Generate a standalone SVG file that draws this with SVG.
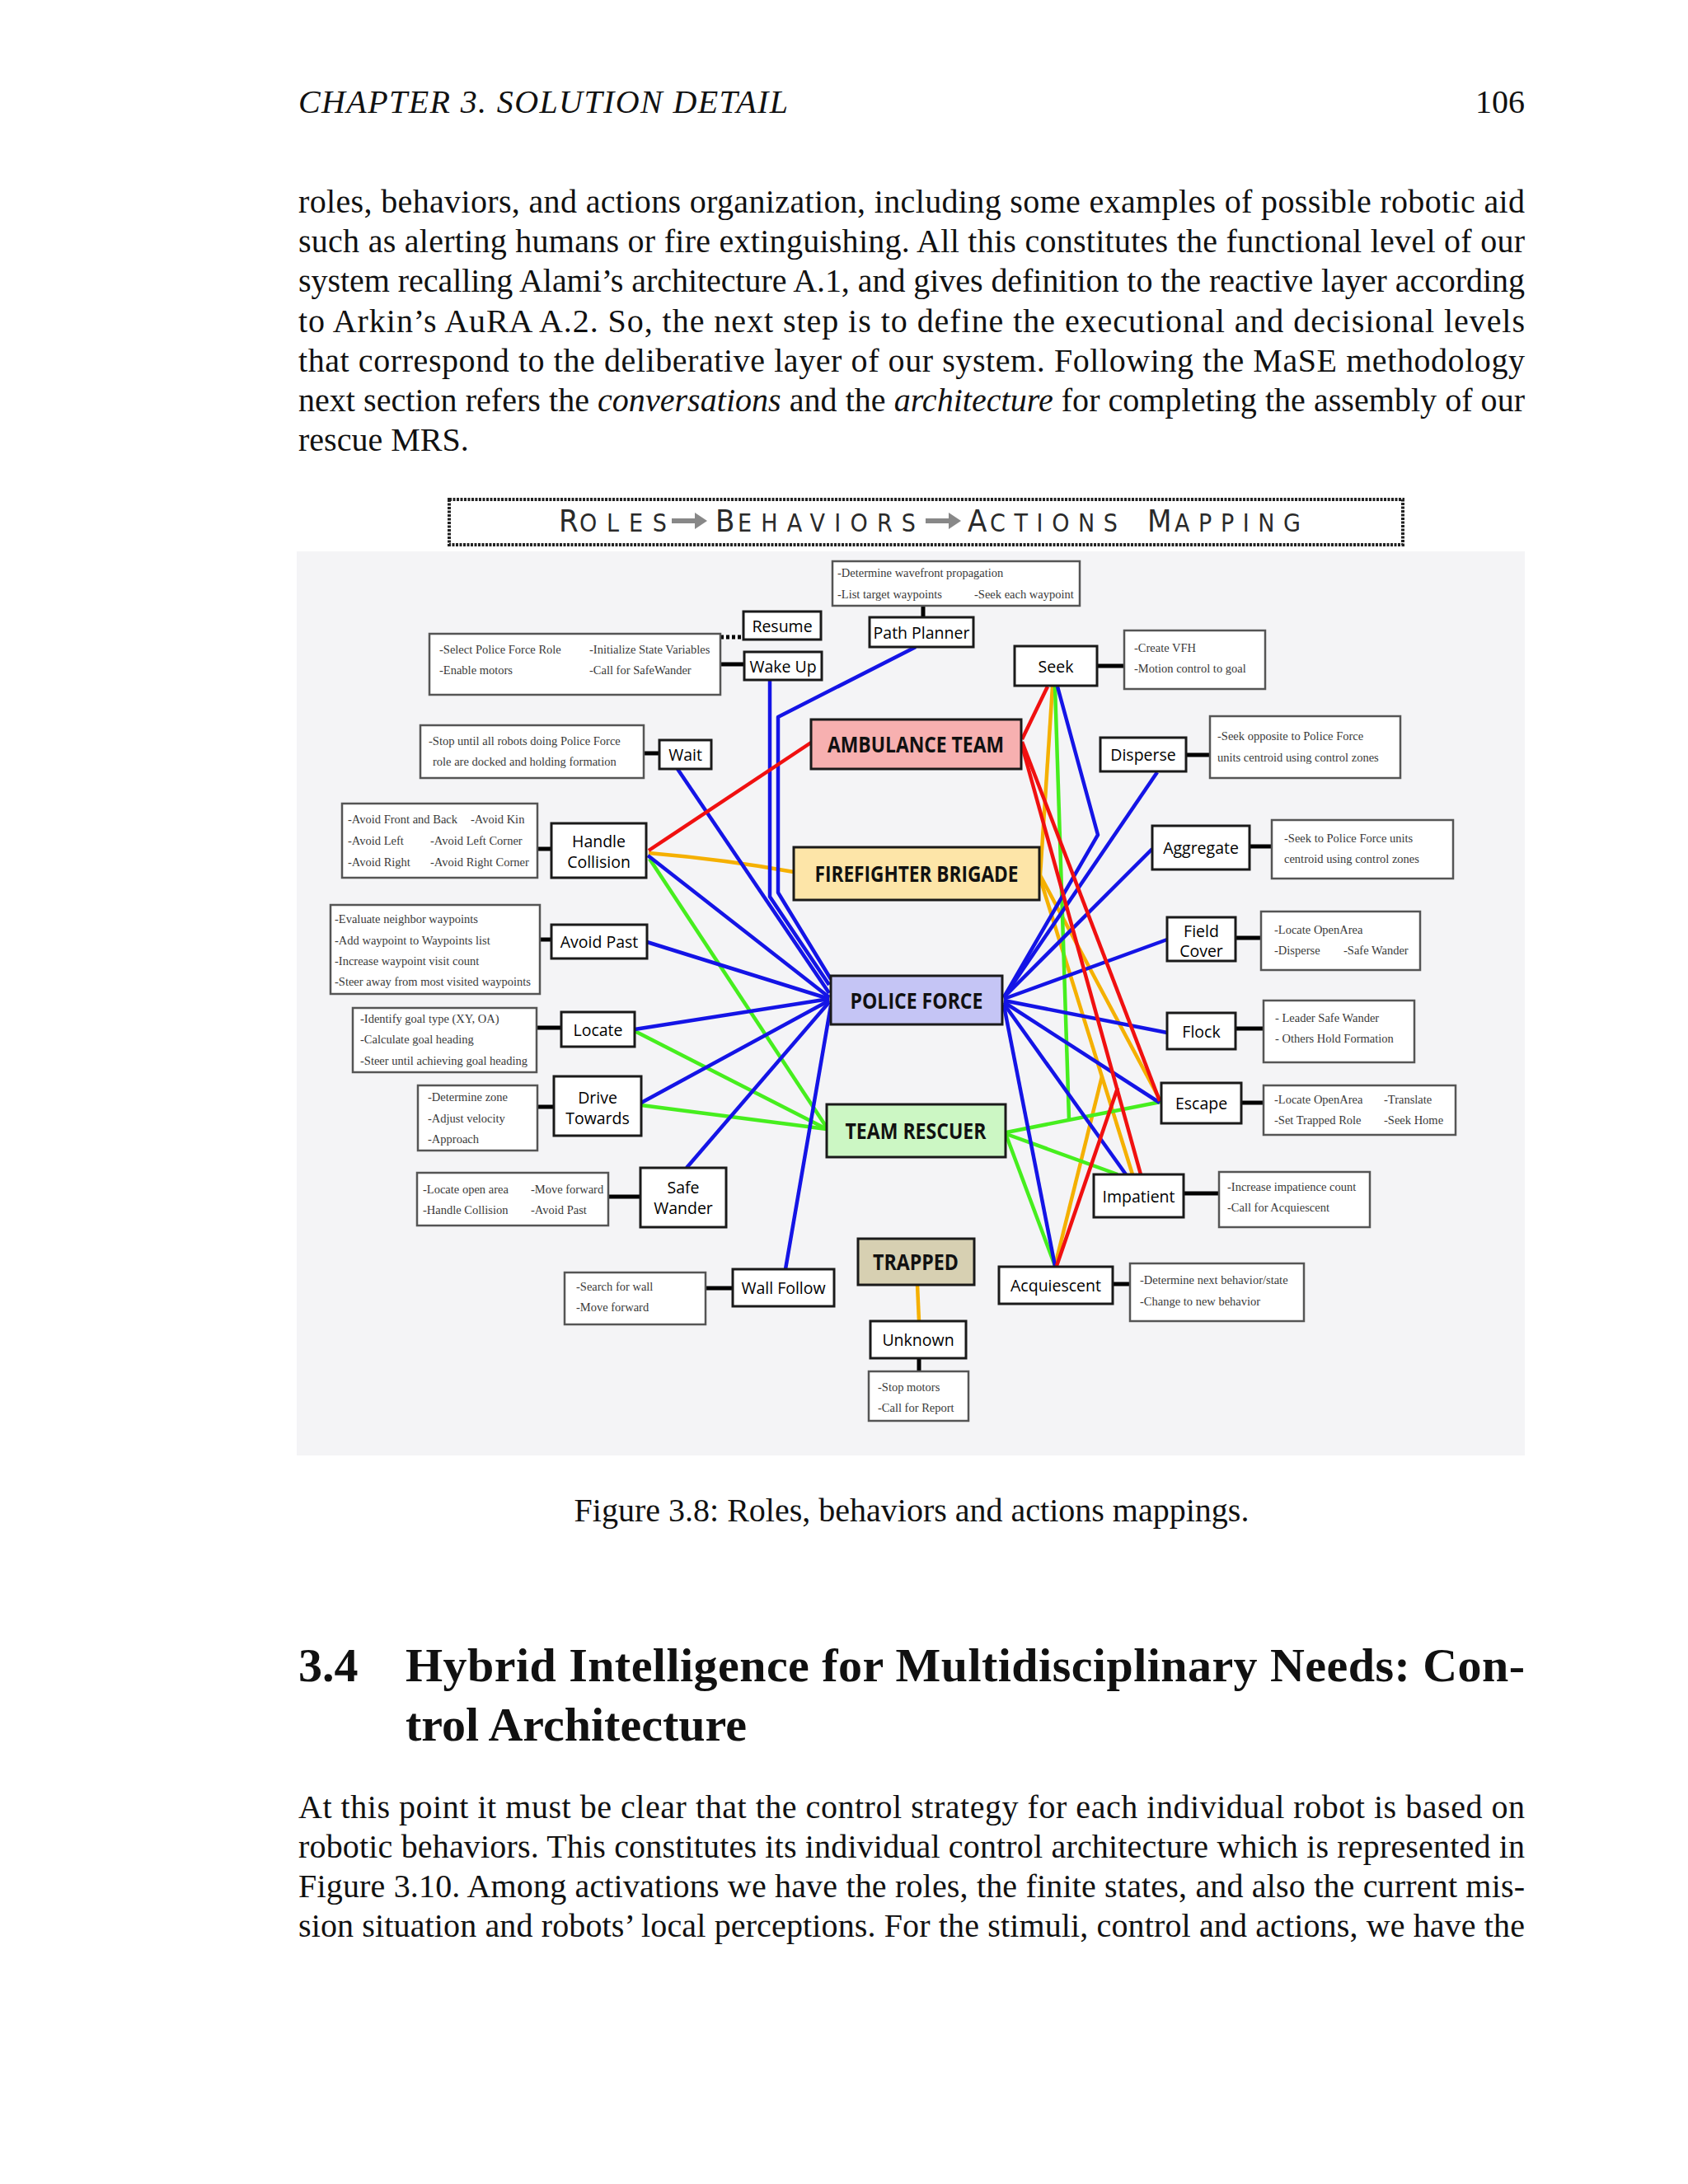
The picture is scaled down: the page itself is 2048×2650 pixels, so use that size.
<svg xmlns="http://www.w3.org/2000/svg" width="2048" height="2650" viewBox="0 0 2048 2650">
<style>
.page{font-family:"Liberation Serif","Times New Roman",serif;font-size:40px;fill:#111}
.beh{fill:#fff;stroke:#1a1a1a;stroke-width:3}
.desc{fill:#fff;stroke:#555;stroke-width:2.5}
.role{stroke:#1a1a1a;stroke-width:3}
.bl{font-family:"Open Sans","Noto Sans",sans-serif;font-size:19.5px;fill:#000;text-anchor:middle;dominant-baseline:central}
.rl{font-family:"Open Sans","Noto Sans",sans-serif;font-weight:bold;font-size:26px;fill:#111;text-anchor:middle;dominant-baseline:central}
.dt{font-family:"Liberation Serif","Times New Roman",serif;font-size:14.5px;fill:#3a3a3a}
.k{stroke:#000;stroke-width:5;fill:none}
.b{stroke:#1414e6;stroke-width:4.5;fill:none;stroke-linejoin:round}
.r{stroke:#f01010;stroke-width:4.5;fill:none}
.o{stroke:#f5b000;stroke-width:4.5;fill:none}
.g{stroke:#46ee1e;stroke-width:4.5;fill:none}
.tt{font-family:"DejaVu Sans Condensed","DejaVu Sans",sans-serif;fill:#2a2a2a}
</style>
<rect x="0" y="0" width="2048" height="2650" fill="#fff"/>

<g id="page-text" class="page">
<text x="362" y="137" font-style="italic" textLength="594" lengthAdjust="spacing">CHAPTER 3.  SOLUTION DETAIL</text>
<text x="1850" y="137" text-anchor="end">106</text>
<text x="362" y="258" textLength="1488" lengthAdjust="spacing">roles, behaviors, and actions organization, including some examples of possible robotic aid</text>
<text x="362" y="306" textLength="1488" lengthAdjust="spacing">such as alerting humans or fire extinguishing.  All this constitutes the functional level of our</text>
<text x="362" y="354" textLength="1488" lengthAdjust="spacing">system recalling Alami’s architecture A.1, and gives definition to the reactive layer according</text>
<text x="362" y="403" textLength="1488" lengthAdjust="spacing">to Arkin’s AuRA A.2.  So, the next step is to define the executional and decisional levels</text>
<text x="362" y="451" textLength="1488" lengthAdjust="spacing">that correspond to the deliberative layer of our system.  Following the MaSE methodology</text>
<text x="362" y="499" textLength="1488" lengthAdjust="spacing">next section refers the <tspan font-style="italic">conversations</tspan> and the <tspan font-style="italic">architecture</tspan> for completing the assembly of our</text>
<text x="362" y="547">rescue MRS.</text>
<text x="1106" y="1846" text-anchor="middle">Figure 3.8: Roles, behaviors and actions mappings.</text>
<text x="362" y="2040" font-weight="bold" font-size="58">3.4</text>
<text x="492" y="2040" font-weight="bold" font-size="58" textLength="1358" lengthAdjust="spacing">Hybrid Intelligence for Multidisciplinary Needs: Con-</text>
<text x="492" y="2112" font-weight="bold" font-size="58">trol Architecture</text>
<text x="362" y="2206" textLength="1488" lengthAdjust="spacing">At this point it must be clear that the control strategy for each individual robot is based on</text>
<text x="362" y="2254" textLength="1488" lengthAdjust="spacing">robotic behaviors. This constitutes its individual control architecture which is represented in</text>
<text x="362" y="2302" textLength="1488" lengthAdjust="spacing">Figure 3.10.  Among activations we have the roles, the finite states, and also the current mis-</text>
<text x="362" y="2350" textLength="1488" lengthAdjust="spacing">sion situation and robots’ local perceptions. For the stimuli, control and actions, we have the</text>
</g>

<g id="title-banner">
<rect x="545" y="606" width="1157" height="55" fill="#fff" stroke="#222" stroke-width="4" stroke-dasharray="3 1.5"/>
<text class="tt" x="678" y="645" font-size="38">R</text>
<text class="tt" x="703" y="645" font-size="30" textLength="106" lengthAdjust="spacing">OLES</text>
<path d="M815,632 H846" stroke="#888" stroke-width="6"/>
<path d="M843,622 L858,632 L843,642 Z" fill="#888"/>
<text class="tt" x="868" y="645" font-size="38">B</text>
<text class="tt" x="895" y="645" font-size="30" textLength="216" lengthAdjust="spacing">EHAVIORS</text>
<path d="M1123,632 H1154" stroke="#888" stroke-width="6"/>
<path d="M1151,622 L1166,632 L1151,642 Z" fill="#888"/>
<text class="tt" x="1174" y="645" font-size="38">A</text>
<text class="tt" x="1201" y="645" font-size="30" textLength="155" lengthAdjust="spacing">CTIONS</text>
<text class="tt" x="1392" y="645" font-size="38">M</text>
<text class="tt" x="1425" y="645" font-size="30" textLength="153" lengthAdjust="spacing">APPING</text>
</g>

<rect id="panel" x="360" y="669" width="1490" height="1097" fill="#f4f4f6"/>

<g id="connectors">
<path class="k" d="M874,773 H902" stroke-dasharray="4 3"/>
<path class="k" d="M874,806 H903"/>
<path class="k" d="M1120,735 V749"/>
<path class="k" d="M1331,808 H1364"/>
<path class="k" d="M781,914 H800"/>
<path class="k" d="M1439,916 H1468"/>
<path class="k" d="M652,1030 H669"/>
<path class="k" d="M1516,1027 H1543"/>
<path class="k" d="M655,1140 H669"/>
<path class="k" d="M1499,1138 H1530"/>
<path class="k" d="M651,1247 H681"/>
<path class="k" d="M1499,1248 H1533"/>
<path class="k" d="M652,1343 H672"/>
<path class="k" d="M1506,1338 H1533"/>
<path class="k" d="M738,1452 H777"/>
<path class="k" d="M1436,1448 H1479"/>
<path class="k" d="M1350,1558 H1371"/>
<path class="k" d="M856,1563 H889"/>
<path class="k" d="M1115,1648 V1664"/>
<path class="o" d="M787,1035 Q880,1043 963,1058"/>
<path class="o" d="M1277,833 L1262,1062"/>
<path class="o" d="M1262,1062 L1407,1334"/>
<path class="o" d="M1262,1066 L1374,1425"/>
<path class="o" d="M1280,1536 L1337,1306"/>
<path class="o" d="M1113,1559 L1115,1603" stroke-width="4"/>
<path class="g" d="M788,1042 L1003,1368"/>
<path class="g" d="M770,1251 L1003,1370"/>
<path class="g" d="M778,1341 L1003,1370"/>
<path class="g" d="M1280,833 L1297,1358"/>
<path class="g" d="M1221,1374 L1408,1337" stroke-width="6"/>
<path class="g" d="M1221,1376 L1356,1425"/>
<path class="g" d="M1221,1378 L1280,1536"/>
<path class="b" d="M822,933 L1006,1205"/>
<path class="b" d="M934,825 L934,1088 L1006,1195"/>
<path class="b" d="M1111,785 L944,870 L944,1083 L1008,1188"/>
<path class="b" d="M786,1038 L1006,1210"/>
<path class="b" d="M785,1143 L1006,1212"/>
<path class="b" d="M770,1249 L1006,1212"/>
<path class="b" d="M778,1338 L1006,1214"/>
<path class="b" d="M833,1417 L1006,1216"/>
<path class="b" d="M953,1540 L1008,1220"/>
<path class="b" d="M1283,833 L1332,1013 L1218,1210"/>
<path class="b" d="M1404,937 L1218,1210"/>
<path class="b" d="M1398,1030 L1218,1210"/>
<path class="b" d="M1416,1140 L1218,1212"/>
<path class="b" d="M1416,1253 L1218,1214"/>
<path class="b" d="M1407,1338 L1218,1216"/>
<path class="b" d="M1366,1425 L1218,1218"/>
<path class="b" d="M1280,1536 L1218,1220"/>
<path class="r" d="M787,1032 L984,901"/>
<path class="r" d="M1271,833 L1240,897"/>
<path class="r" d="M1240,900 L1407,1336"/>
<path class="r" d="M1240,905 L1384,1425"/>
<path class="r" d="M1282,1536 L1356,1320"/>
</g>

<g id="role-ambulance"><rect class="role" x="984" y="873" width="255" height="60" fill="#f7b0b0"/><text class="rl" x="1111" y="903" textLength="214" lengthAdjust="spacingAndGlyphs">AMBULANCE TEAM</text></g>
<g id="role-firefighter"><rect class="role" x="963" y="1028" width="298" height="64" fill="#fde5a8"/><text class="rl" x="1112" y="1060" textLength="247" lengthAdjust="spacingAndGlyphs">FIREFIGHTER BRIGADE</text></g>
<g id="role-police"><rect class="role" x="1008" y="1184" width="208" height="59" fill="#c5c5f5"/><text class="rl" x="1112" y="1214" textLength="161" lengthAdjust="spacingAndGlyphs">POLICE FORCE</text></g>
<g id="role-rescuer"><rect class="role" x="1003" y="1340" width="217" height="64" fill="#ccf7c4"/><text class="rl" x="1111" y="1372" textLength="171" lengthAdjust="spacingAndGlyphs">TEAM RESCUER</text></g>
<g id="role-trapped"><rect class="role" x="1041" y="1503" width="141" height="56" fill="#d7d0b2"/><text class="rl" x="1111" y="1531" textLength="104" lengthAdjust="spacingAndGlyphs">TRAPPED</text></g>

<g id="beh-resume"><rect class="beh" x="902" y="742" width="94" height="34"/><text class="bl" x="949" y="759">Resume</text></g>
<g id="beh-wakeup"><rect class="beh" x="903" y="791" width="94" height="34"/><text class="bl" x="950" y="808">Wake Up</text></g>
<g id="beh-pathplanner"><rect class="beh" x="1055" y="749" width="126" height="36"/><text class="bl" x="1118" y="767">Path Planner</text></g>
<g id="beh-seek"><rect class="beh" x="1231" y="784" width="100" height="48"/><text class="bl" x="1281" y="808">Seek</text></g>
<g id="beh-wait"><rect class="beh" x="800" y="898" width="63" height="35"/><text class="bl" x="831.5" y="915.5">Wait</text></g>
<g id="beh-disperse"><rect class="beh" x="1335" y="895" width="104" height="41"/><text class="bl" x="1387" y="915.5">Disperse</text></g>
<g id="beh-handlecollision"><rect class="beh" x="669" y="999" width="115" height="66"/><text class="bl" x="726.5" y="1020">Handle</text><text class="bl" x="726.5" y="1045">Collision</text></g>
<g id="beh-aggregate"><rect class="beh" x="1398" y="1002" width="118" height="53"/><text class="bl" x="1457" y="1028">Aggregate</text></g>
<g id="beh-avoidpast"><rect class="beh" x="669" y="1122" width="116" height="41"/><text class="bl" x="727" y="1142">Avoid Past</text></g>
<g id="beh-fieldcover"><rect class="beh" x="1416" y="1113" width="83" height="53"/><text class="bl" x="1457.5" y="1129">Field</text><text class="bl" x="1457.5" y="1153">Cover</text></g>
<g id="beh-locate"><rect class="beh" x="681" y="1228" width="89" height="42"/><text class="bl" x="725.5" y="1249">Locate</text></g>
<g id="beh-flock"><rect class="beh" x="1416" y="1229" width="83" height="44"/><text class="bl" x="1457.5" y="1251">Flock</text></g>
<g id="beh-drivetowards"><rect class="beh" x="672" y="1306" width="106" height="72"/><text class="bl" x="725" y="1331">Drive</text><text class="bl" x="725" y="1356">Towards</text></g>
<g id="beh-escape"><rect class="beh" x="1409" y="1314" width="97" height="49"/><text class="bl" x="1457.5" y="1338.5">Escape</text></g>
<g id="beh-safewander"><rect class="beh" x="777" y="1417" width="104" height="72"/><text class="bl" x="829" y="1440">Safe</text><text class="bl" x="829" y="1465">Wander</text></g>
<g id="beh-impatient"><rect class="beh" x="1327" y="1425" width="109" height="52"/><text class="bl" x="1381.5" y="1451">Impatient</text></g>
<g id="beh-acquiescent"><rect class="beh" x="1212" y="1537" width="138" height="45"/><text class="bl" x="1281" y="1559.5">Acquiescent</text></g>
<g id="beh-wallfollow"><rect class="beh" x="889" y="1540" width="123" height="45"/><text class="bl" x="950.5" y="1562.5">Wall Follow</text></g>
<g id="beh-unknown"><rect class="beh" x="1056" y="1603" width="116" height="45"/><text class="bl" x="1114" y="1625.5">Unknown</text></g>

<g id="act-wakeup"><rect class="desc" x="521" y="769" width="353" height="74"/><text class="dt" x="533" y="793">-Select Police Force Role</text><text class="dt" x="715" y="793">-Initialize State Variables</text><text class="dt" x="533" y="818">-Enable motors</text><text class="dt" x="715" y="818">-Call for SafeWander</text></g>
<g id="act-pathplanner"><rect class="desc" x="1010" y="681" width="300" height="54"/><text class="dt" x="1016" y="700">-Determine wavefront propagation</text><text class="dt" x="1016" y="726">-List target waypoints</text><text class="dt" x="1182" y="726">-Seek each waypoint</text></g>
<g id="act-seek"><rect class="desc" x="1364" y="765" width="171" height="71"/><text class="dt" x="1376" y="791">-Create VFH</text><text class="dt" x="1376" y="816">-Motion control to goal</text></g>
<g id="act-wait"><rect class="desc" x="510" y="880" width="271" height="64"/><text class="dt" x="520" y="904">-Stop until all robots doing Police Force</text><text class="dt" x="525" y="929">role are docked and holding formation</text></g>
<g id="act-disperse"><rect class="desc" x="1468" y="869" width="231" height="75"/><text class="dt" x="1477" y="898">-Seek opposite to Police Force</text><text class="dt" x="1477" y="924">units centroid using control zones</text></g>
<g id="act-handlecollision"><rect class="desc" x="415" y="975" width="237" height="90"/><text class="dt" x="422" y="999">-Avoid Front and Back</text><text class="dt" x="571" y="999">-Avoid Kin</text><text class="dt" x="422" y="1025">-Avoid Left</text><text class="dt" x="522" y="1025">-Avoid Left Corner</text><text class="dt" x="422" y="1051">-Avoid Right</text><text class="dt" x="522" y="1051">-Avoid Right Corner</text></g>
<g id="act-aggregate"><rect class="desc" x="1543" y="995" width="220" height="71"/><text class="dt" x="1558" y="1022">-Seek to Police Force units</text><text class="dt" x="1558" y="1047">centroid using control zones</text></g>
<g id="act-avoidpast"><rect class="desc" x="401" y="1098" width="254" height="108" stroke-width="3.5"/><text class="dt" x="406" y="1120">-Evaluate neighbor waypoints</text><text class="dt" x="406" y="1146">-Add waypoint to Waypoints list</text><text class="dt" x="406" y="1171">-Increase waypoint visit count</text><text class="dt" x="406" y="1196">-Steer away from most visited waypoints</text></g>
<g id="act-fieldcover"><rect class="desc" x="1530" y="1106" width="193" height="71"/><text class="dt" x="1546" y="1133">-Locate OpenArea</text><text class="dt" x="1546" y="1158">-Disperse</text><text class="dt" x="1630" y="1158">-Safe Wander</text></g>
<g id="act-locate"><rect class="desc" x="428" y="1223" width="223" height="78"/><text class="dt" x="437" y="1241">-Identify goal type (XY, OA)</text><text class="dt" x="437" y="1266">-Calculate goal heading</text><text class="dt" x="437" y="1292">-Steer until achieving goal heading</text></g>
<g id="act-flock"><rect class="desc" x="1533" y="1214" width="183" height="75"/><text class="dt" x="1547" y="1240">- Leader Safe Wander</text><text class="dt" x="1547" y="1265">- Others Hold Formation</text></g>
<g id="act-drivetowards"><rect class="desc" x="507" y="1317" width="145" height="79"/><text class="dt" x="519" y="1336">-Determine zone</text><text class="dt" x="519" y="1362">-Adjust velocity</text><text class="dt" x="519" y="1387">-Approach</text></g>
<g id="act-escape"><rect class="desc" x="1533" y="1317" width="233" height="60"/><text class="dt" x="1546" y="1339">-Locate OpenArea</text><text class="dt" x="1679" y="1339">-Translate</text><text class="dt" x="1546" y="1364">-Set Trapped Role</text><text class="dt" x="1679" y="1364">-Seek Home</text></g>
<g id="act-safewander"><rect class="desc" x="506" y="1423" width="232" height="64"/><text class="dt" x="513" y="1448">-Locate open area</text><text class="dt" x="644" y="1448">-Move forward</text><text class="dt" x="513" y="1473">-Handle Collision</text><text class="dt" x="644" y="1473">-Avoid Past</text></g>
<g id="act-impatient"><rect class="desc" x="1479" y="1422" width="183" height="67"/><text class="dt" x="1489" y="1445">-Increase impatience count</text><text class="dt" x="1489" y="1470">-Call for Acquiescent</text></g>
<g id="act-acquiescent"><rect class="desc" x="1371" y="1533" width="211" height="70"/><text class="dt" x="1383" y="1558">-Determine next behavior/state</text><text class="dt" x="1383" y="1584">-Change to new behavior</text></g>
<g id="act-wallfollow"><rect class="desc" x="685" y="1544" width="171" height="63"/><text class="dt" x="699" y="1566">-Search for wall</text><text class="dt" x="699" y="1591">-Move forward</text></g>
<g id="act-unknown"><rect class="desc" x="1054" y="1664" width="121" height="60"/><text class="dt" x="1065" y="1688">-Stop motors</text><text class="dt" x="1065" y="1713">-Call for Report</text></g>
</svg>
